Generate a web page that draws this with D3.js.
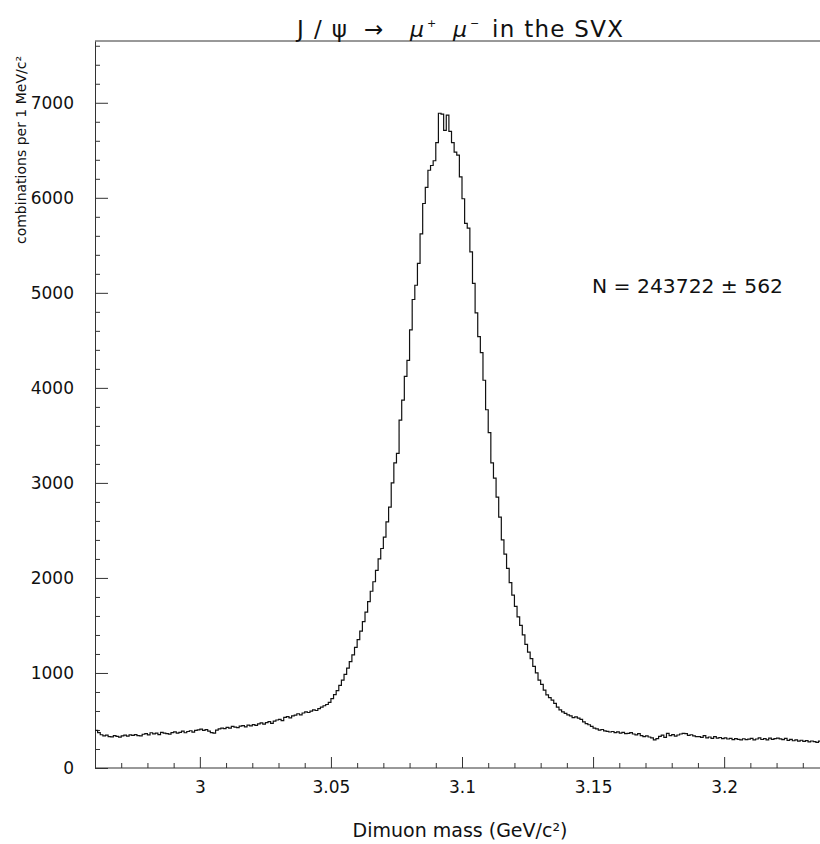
<!DOCTYPE html>
<html>
<head>
<meta charset="utf-8">
<script src="https://cdn.jsdelivr.net/npm/d3@7"></script>
<style>
  body { margin: 0; background: #fff; }
  svg { display: block; }
  .tick text { font-family: "DejaVu Sans", sans-serif; font-size: 17px; fill: #111; }
  .axisLabel { font-family: "DejaVu Sans", sans-serif; fill: #111; }
</style>
</head>
<body>
<svg class="chart"></svg>
<script>
// histogram: 1 MeV bins starting at 2.960 GeV
var binStart = 2.960;
var binWidth = 0.001;
var counts = [
  395, 372, 350, 338, 345, 331, 327, 340, 333, 325,
  338, 346, 335, 349, 344, 352, 340, 337, 355, 362,
  348, 371, 359, 366, 352, 374, 368, 361, 357, 372,
  380, 366, 375, 389, 371, 384, 392, 378, 396, 401,
  410, 395, 403, 388, 372, 366, 398, 412, 420, 415,
  428, 419, 437, 431, 425, 440, 446, 433, 452, 444,
  456, 449, 465, 474, 461, 478, 487, 470, 494, 505,
  512, 498, 533, 541, 528, 549, 556, 571, 558, 579,
  590, 584, 598, 611, 605, 624, 641, 655, 668, 690,
  730, 772, 815, 870, 925, 985, 1050, 1120, 1190, 1270,
  1350, 1440, 1540, 1640, 1750, 1860, 1960, 2080, 2200, 2310,
  2430, 2590, 2745, 3000, 3210, 3310, 3660, 3870, 4120, 4290,
  4610, 4930, 5080, 5310, 5620, 5940, 6110, 6290, 6340, 6390,
  6580, 6890, 6880, 6710, 6870, 6700, 6580, 6480, 6450, 6220,
  5990, 5730, 5680, 5430, 5100, 4790, 4540, 4370, 4080, 3770,
  3530, 3210, 3050, 2850, 2640, 2400, 2250, 2100, 1950, 1820,
  1700, 1590, 1500, 1400, 1300, 1220, 1150, 1070, 1000, 925,
  880, 820, 770, 740, 715, 680, 640, 612, 590, 575,
  560, 548, 530, 538, 525, 512, 485, 468, 455, 437,
  420, 412, 398, 405, 391, 386, 379, 384, 372, 380,
  368, 375, 361, 365, 372, 358, 349, 362, 341, 330,
  338, 326, 318, 295, 310, 332, 345, 322, 365, 340,
  352, 336, 347, 358, 365, 362, 344, 350, 338, 331,
  330, 322, 340, 318, 326, 312, 330, 315, 321, 309,
  318, 305, 312, 298, 310, 302, 295, 308, 299, 304,
  312, 296, 305, 318, 300, 309, 297, 314, 302, 310,
  315, 306, 298, 311, 290, 302, 287, 296, 283, 292,
  280, 289, 275, 284, 278, 270, 283, 276, 281, 279
];

var xMajorTicks = [3, 3.05, 3.1, 3.15, 3.2];
var xTickLabels = ["3", "3.05", "3.1", "3.15", "3.2"];
var yMajorTicks = [0, 1000, 2000, 3000, 4000, 5000, 6000, 7000];
var massRange = [2.96, 3.24];
var countMax = 7650;

var xLabelText = "Dimuon mass (GeV/c\u00b2)";
var yLabelText = "combinations per 1 MeV/c\u00b2";
var fitText = "N = 243722 \u00b1 562";

var width = 820, height = 844;
var chart = d3.select('.chart').attr("width", width).attr("height", height);

var x = d3.scaleLinear().domain(massRange).range([95, 829]);
var y = d3.scaleLinear().domain([0, countMax]).range([768, 41]);

function buildXAxis() {
  var minor = d3.range(296, 325).map(function(d) { return d / 100; })
                .filter(function(d) { return xMajorTicks.indexOf(d) < 0; });
  chart.append("g")
       .attr("transform", "translate(0," + y(0) + ")")
       .call(d3.axisBottom(x).tickValues(minor).tickSizeInner(-5).tickSizeOuter(0).tickFormat(""))
       .call(function(g) { g.select(".domain").remove(); })
       .selectAll("line").attr("stroke", "#333");
  var g = chart.append("g")
       .attr("transform", "translate(0," + y(0) + ")")
       .call(d3.axisBottom(x).tickValues(xMajorTicks).tickSizeInner(-11).tickSizeOuter(0).tickPadding(13)
               .tickFormat(function(d, i) { return xTickLabels[i]; }));
  g.select(".domain").attr("d", "M" + x.range()[0] + ",0H" + width).attr("stroke", "#333");
  g.selectAll("line").attr("stroke", "#333");

  chart.append("text")
       .attr("class", "axisLabel")
       .attr("x", 460).attr("y", 837)
       .attr("text-anchor", "middle")
       .style("font-size", "19px")
       .text(xLabelText);
}

function buildYAxis() {
  var minor = d3.range(0, countMax, 200).filter(function(d) { return d % 1000 !== 0; });
  chart.append("g")
       .attr("transform", "translate(" + x.range()[0] + ",0)")
       .call(d3.axisLeft(y).tickValues(minor).tickSizeInner(-5).tickSizeOuter(0).tickFormat(""))
       .call(function(g) { g.select(".domain").remove(); })
       .selectAll("line").attr("stroke", "#333");
  var g = chart.append("g")
       .attr("transform", "translate(" + x.range()[0] + ",0)")
       .call(d3.axisLeft(y).tickValues(yMajorTicks).tickSizeInner(-13).tickSizeOuter(0).tickPadding(21)
               .tickFormat(d3.format("d")));
  g.selectAll("line").attr("stroke", "#333");
  g.select(".domain").attr("stroke", "#333");

  chart.append("text")
       .attr("class", "axisLabel")
       .attr("transform", "translate(26,150) rotate(-90)")
       .attr("text-anchor", "middle")
       .style("font-size", "14px")
       .text(yLabelText);
}

// top frame line with the title sitting on it
chart.append("line")
     .attr("x1", x.range()[0]).attr("x2", width)
     .attr("y1", y(countMax)).attr("y2", y(countMax))
     .attr("stroke", "#333");

// title pieces, spaced like the original
function titlePiece(px, len, size, txt, italic) {
  var t = chart.append("text")
       .attr("class", "axisLabel")
       .attr("x", px).attr("y", 37)
       .style("font-size", size + "px")
       .style("font-style", italic ? "italic" : "normal")
       .text(txt);
  if (len) t.attr("textLength", len).attr("lengthAdjust", "spacing");
  return t;
}
titlePiece(297, 50, 23, "J/\u03c8");
titlePiece(364, 0, 23, "\u2192");
titlePiece(410, 0, 22, "\u03bc", true);
titlePiece(427, 0, 11, "+").attr("y", 27);
titlePiece(453, 0, 22, "\u03bc", true);
titlePiece(470, 0, 11, "\u2212").attr("y", 27);
titlePiece(492, 131, 23, "in the SVX");

buildYAxis();
buildXAxis();

// step histogram
var points = counts.map(function(c, i) { return [binStart + i * binWidth, c]; });
points.push([binStart + counts.length * binWidth, counts[counts.length - 1]]);
var line = d3.line()
     .x(function(d) { return x(d[0]); })
     .y(function(d) { return y(d[1]); })
     .curve(d3.curveStepAfter);

chart.append("path")
     .datum(points)
     .attr("fill", "none")
     .attr("stroke", "#111")
     .attr("stroke-width", 1.2)
     .attr("d", line);

chart.append("text")
     .attr("class", "axisLabel")
     .attr("x", 592).attr("y", 293)
     .attr("textLength", 191).attr("lengthAdjust", "spacingAndGlyphs")
     .style("font-size", "19px")
     .text(fitText);
</script>
</body>
</html>
